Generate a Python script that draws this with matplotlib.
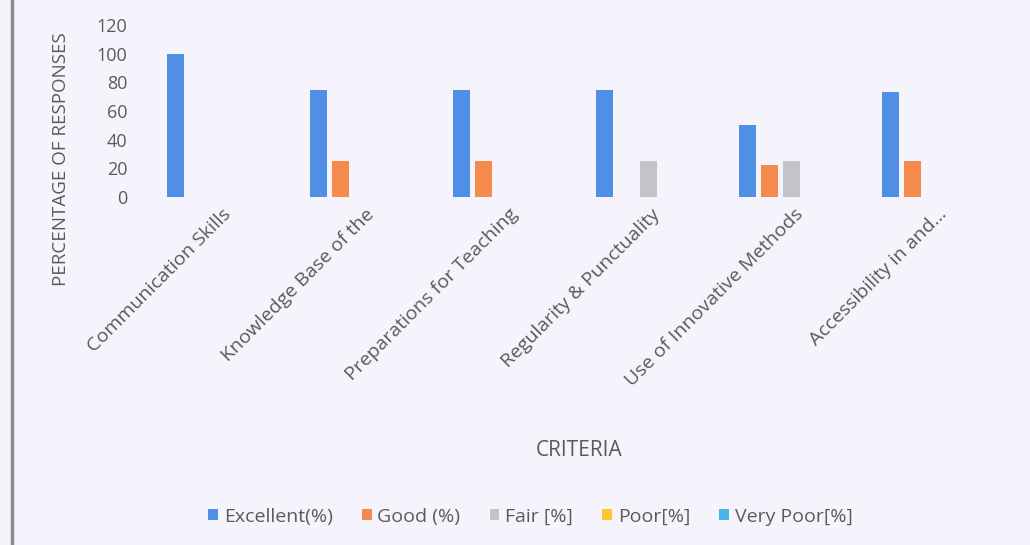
import numpy as np
import matplotlib
matplotlib.use("Agg")
import matplotlib.pyplot as plt

# Data
criteria = ["Communication Skills", "Knowledge Base of the", "Preparations for Teaching",
            "Regularity & Punctuality", "Use of Innovative Methods", "Accessibility in and..."]
excellent = [100, 75, 75, 75, 50, 73]
good = [0, 25, 25, 0, 22, 25]
fair = [0, 0, 0, 25, 25, 0]
poor = [0, 0, 0, 0, 0, 0]
very_poor = [0, 0, 0, 0, 0, 0]

series = [("Excellent(%)", excellent, "#4f8fe6"),
          ("Good (%)", good, "#f48a4c"),
          ("Fair [%]", fair, "#c4c4c8"),
          ("Poor[%]", poor, "#ffc52e"),
          ("Very Poor[%]", very_poor, "#4cb4ec")]

bg = "#f5f4fc"
txt = "#5a5a5a"
plt.rcParams['font.family'] = ['Open Sans', 'DejaVu Sans']

fig = plt.figure(figsize=(10.30, 5.45), dpi=100, facecolor=bg)
ax = fig.add_axes([0.1437, 0.6385, 0.833, 0.3156], facecolor=bg)

x = np.arange(len(criteria))
w = 0.115
step = 0.154
for i, (name, vals, col) in enumerate(series):
    ax.bar(x + (i - 2) * step, vals, width=w, color=col, label=name)

ax.set_xlim(-0.5, len(criteria) - 0.5)
ax.set_ylim(0, 120)
ax.set_yticks(range(0, 121, 20))
ax.tick_params(axis='y', length=0, labelsize=13, labelcolor=txt, pad=15)
ax.set_xticks(x + 0.02)
ax.set_xticklabels(criteria, rotation=45, ha='right', rotation_mode='anchor',
                   fontsize=14, color=txt)
ax.tick_params(axis='x', length=0, pad=6)
for s in ax.spines.values():
    s.set_visible(False)

ax.set_ylabel("PERCENTAGE OF RESPONSES", fontsize=13.5, color=txt)
ax.yaxis.set_label_coords(-0.091, 0.22)
fig.text(0.5626, 0.173, "CRITERIA", ha='center', va='center', fontsize=15, color=txt)

fig.legend(loc='center', bbox_to_anchor=(0.515, 0.052), ncol=5, frameon=False,
           fontsize=14, labelcolor=txt, handlelength=0.5, handleheight=0.5,
           handletextpad=0.3, columnspacing=1.5)

# left border line
fig.add_artist(plt.Line2D([0.0115, 0.0115], [0, 1], color="#8c8c8c", lw=2.5))

fig.savefig("out.png", dpi=100, facecolor=bg)
